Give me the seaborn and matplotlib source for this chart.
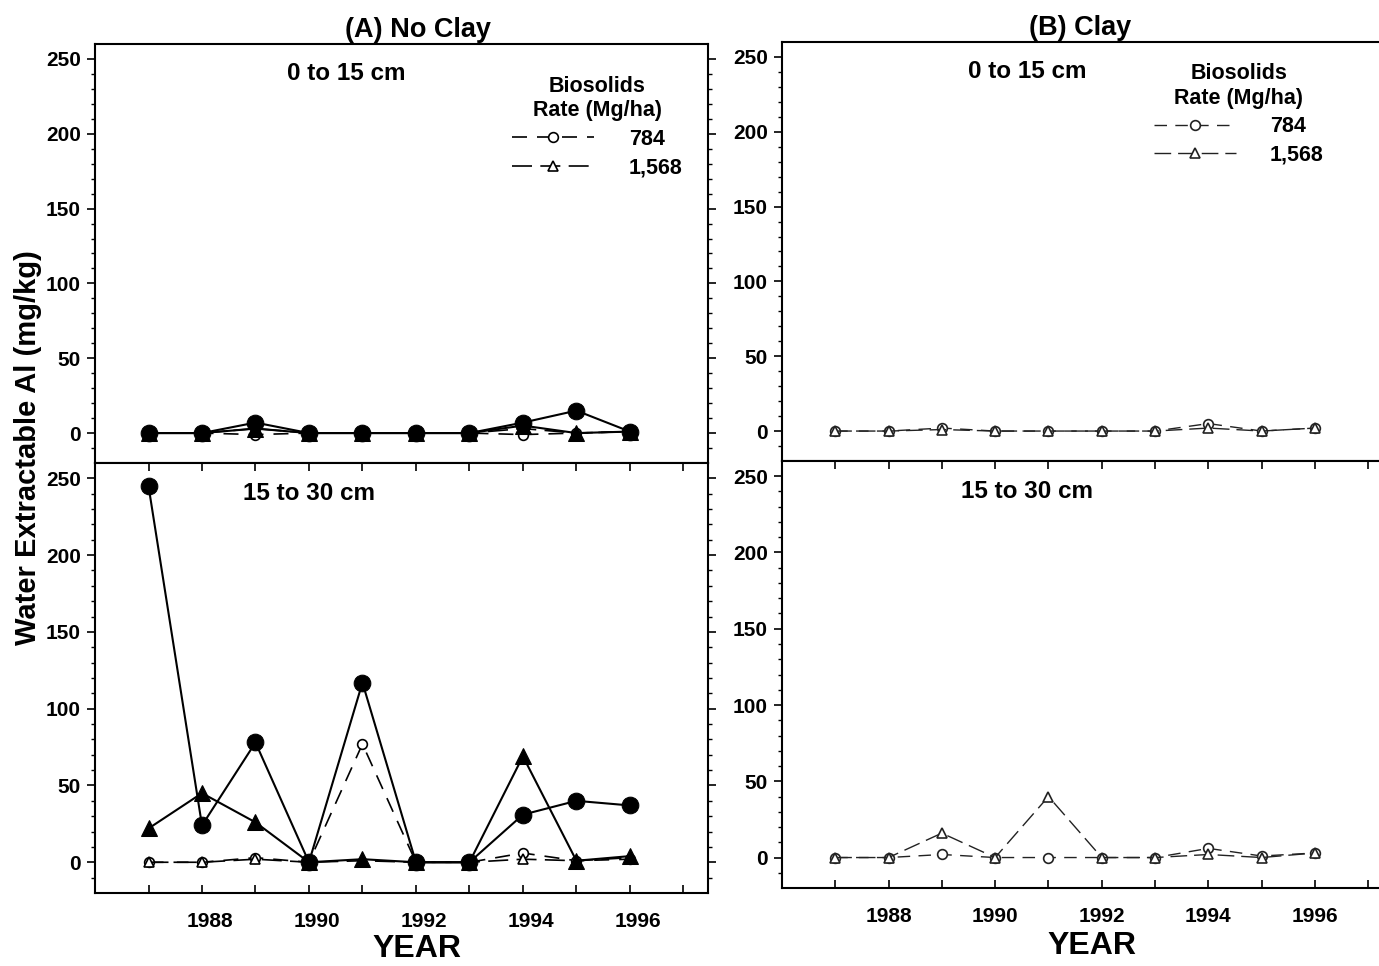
import numpy as np
import pandas as pd
import matplotlib
matplotlib.use("Agg")
import matplotlib.pyplot as plt
import matplotlib.transforms as mtransforms
import seaborn as sns

sns.set_style("ticks")
plt.rcParams['font.family'] = ['Liberation Sans', 'DejaVu Sans']
plt.rcParams['font.weight'] = 'bold'
for k in ['text.color', 'axes.labelcolor', 'xtick.color', 'ytick.color', 'axes.edgecolor']:
    plt.rcParams[k] = 'black'

years = [1987, 1988, 1989, 1990, 1991, 1992, 1993, 1994, 1995, 1996]

# Panel A (No Clay), 0 to 15 cm
a_top_filled_circle = [0, 0, 7, 0, 0, 0, 0, 7, 15, 1]
a_top_filled_tri = [0, 0, 3, 0, 0, 0, 0, 5, 0, 1]
a_top_784 = [0, 0, -1, 0, 0, 0, 0, -1, 0, 1]
a_top_1568 = [0, 0, 3, 0, 0, 0, 0, 3, 0, 1]

# Panel A (No Clay), 15 to 30 cm
a_bot_filled_circle = [245, 24, 78, 0, 117, 0, 0, 31, 40, 37]
a_bot_filled_tri = [22, 45, 26, 0, 2, 0, 0, 69, 1, 4]
a_bot_784 = [0, 0, 3, 0, 77, 0, 0, 6, 1, 2]
a_bot_1568 = [0, 0, 2, 0, 1, 0, 0, 2, 1, 3]

# Panel B (Clay)
b_top_784 = [0, 0, 2, 0, 0, 0, 0, 5, 0, 2]
b_top_1568 = [0, 0, 1, 0, 0, 0, 0, 2, 0, 2]
b_bot_784 = [0, 0, 2, 0, 0, 0, 0, 6, 1, 3]
b_bot_1568 = [0, 0, 16, 0, 40, 0, 0, 2, 0, 3]

rate_labels = ["784", "1,568"]
legend_title = "Biosolids\nRate (Mg/ha)"

fig = plt.figure(figsize=(13.79, 9.66), dpi=100)
axA1 = fig.add_axes([0.0689, 0.5207, 0.4445, 0.4338])
axA2 = fig.add_axes([0.0689, 0.0756, 0.4445, 0.4451])
axB1 = fig.add_axes([0.567, 0.5228, 0.433, 0.4337])
axB2 = fig.add_axes([0.567, 0.0807, 0.433, 0.4421])

dash784 = (0, (9, 6))
dash1568 = (0, (12, 5))

def filled(ax, vals, marker, ms):
    sns.lineplot(x=years, y=vals, ax=ax, color='black', marker=marker,
                 markersize=ms, markerfacecolor='black', markeredgecolor='black',
                 linewidth=1.5, linestyle='-', legend=False)

def opened(ax, vals, marker, ls, label, color='black', lw=1.2):
    sns.lineplot(x=years, y=vals, ax=ax, color=color, marker=marker,
                 markersize=7, markerfacecolor='white', markeredgecolor=color,
                 markeredgewidth=1.2, linewidth=lw, linestyle=ls, label=label)

# A top
opened(axA1, a_top_784, 'o', dash784, rate_labels[0])
opened(axA1, a_top_1568, '^', dash1568, rate_labels[1])
filled(axA1, a_top_filled_tri, '^', 11)
filled(axA1, a_top_filled_circle, 'o', 12)
# A bottom
opened(axA2, a_bot_784, 'o', dash784, rate_labels[0])
opened(axA2, a_bot_1568, '^', dash1568, rate_labels[1])
filled(axA2, a_bot_filled_tri, '^', 11)
filled(axA2, a_bot_filled_circle, 'o', 12)
# B
opened(axB1, b_top_784, 'o', dash784, rate_labels[0], color='#222222', lw=1.0)
opened(axB1, b_top_1568, '^', dash1568, rate_labels[1], color='#222222', lw=1.0)
opened(axB2, b_bot_784, 'o', dash784, rate_labels[0], color='#222222', lw=1.0)
opened(axB2, b_bot_1568, '^', dash1568, rate_labels[1], color='#222222', lw=1.0)

for ax, xr in [(axA1, 1997.46), (axA2, 1997.46), (axB1, 1997.2), (axB2, 1997.2)]:
    ax.set_xlim(1986.0, xr)
    ax.set_ylim(-20, 260)
    ax.set_yticks([0, 50, 100, 150, 200, 250])
    ax.set_yticks(np.arange(-10, 260, 10), minor=True)
    ax.set_xticks(np.arange(1987, 1998, 1))
    ax.set_xticklabels([str(y) if y % 2 == 0 and y <= 1996 else '' for y in range(1987, 1998)])
    ax.tick_params(axis='y', which='major', direction='out', length=6, width=1.2,
                   labelsize=15, pad=4)
    ax.tick_params(axis='y', which='minor', direction='out', length=3, width=1)
    ax.tick_params(axis='x', which='major', direction='in', length=6, width=1.2,
                   labelsize=15, pad=14)
    for lab in ax.get_xticklabels() + ax.get_yticklabels():
        lab.set_fontweight('bold')
    for s in ax.spines.values():
        s.set_linewidth(1.5)
        s.set_color('black')
    ax.set_ylabel('')
    ax.set_xlabel('')

for ax in (axA1, axA2):
    ax.tick_params(axis='y', which='both', right=True)
for ax in (axB1, axB2):
    ax.spines['right'].set_visible(False)

for ax in (axA1, axB1):
    ax.tick_params(axis='x', which='both', labelbottom=False, bottom=False)
for ax in (axA2, axB2):
    ax.tick_params(axis='x', which='major', top=True)

# panel A's year labels sit slightly right of their ticks in the reference
shift = mtransforms.ScaledTranslation(8 / 100, 0, fig.dpi_scale_trans)
for lab in axA2.get_xticklabels():
    lab.set_transform(lab.get_transform() + shift)

axA2.set_xlabel('YEAR', fontsize=23, fontweight='bold', labelpad=2, x=0.525)
axB2.set_xlabel('YEAR', fontsize=23, fontweight='bold', labelpad=3, x=0.52)

axA1.text(1990.7, 240, '0 to 15 cm', ha='center', va='center', fontsize=17.5, fontweight='bold')
axA2.text(1990.0, 240, '15 to 30 cm', ha='center', va='center', fontsize=17.5, fontweight='bold')
axB1.text(1990.6, 240, '0 to 15 cm', ha='center', va='center', fontsize=17.5, fontweight='bold')
axB2.text(1990.6, 240, '15 to 30 cm', ha='center', va='center', fontsize=17.5, fontweight='bold')

axA1.set_title('(A) No Clay', fontsize=19.5, fontweight='bold', pad=5, x=0.527)
axB1.set_title('(B) Clay', fontsize=19.5, fontweight='bold', pad=5)

def style_legend(ax, anchor):
    leg = ax.legend(title=legend_title, loc='upper right', bbox_to_anchor=anchor,
                    frameon=False, fontsize=15.5, title_fontsize=15.5,
                    handlelength=3.8, handletextpad=1.6, labelspacing=0.35,
                    markerfirst=True, alignment='center')
    leg.get_title().set_fontweight('bold')
    leg.get_title().set_multialignment('center')
    for t in leg.get_texts():
        t.set_fontweight('bold')
    return leg

style_legend(axA1, (0.99, 0.97))
style_legend(axB1, (0.94, 0.995))
if axA2.legend_:
    axA2.legend_.remove()
if axB2.legend_:
    axB2.legend_.remove()

fig.text(0.020, 0.537, 'Water Extractable Al (mg/kg)', rotation=90, ha='center',
         va='center', fontsize=21, fontweight='bold')

fig.savefig('out.png', dpi=100)
